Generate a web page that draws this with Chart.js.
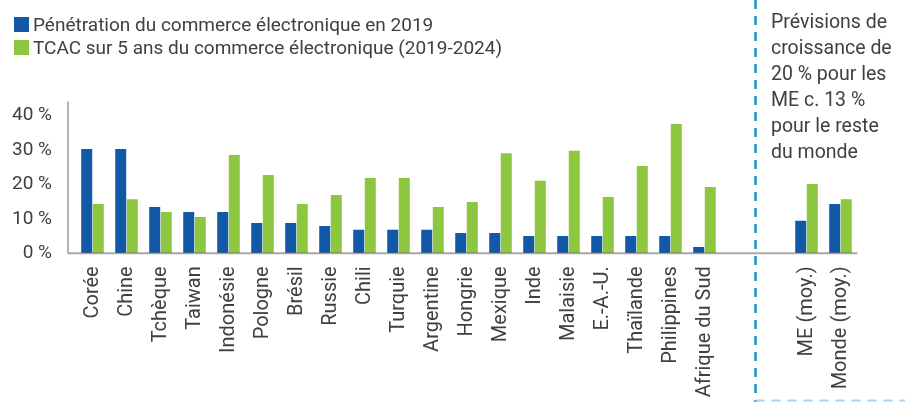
<!DOCTYPE html>
<html lang="fr">
<head>
    <meta charset="UTF-8">
    <title>Commerce électronique</title>
    <script src="https://cdn.jsdelivr.net/npm/chart.js"></script>
    <style>
        body {
            margin: 0;
            background: #ffffff;
            font-family: Roboto, sans-serif;
            color: #404040;
        }
        #wrap {
            position: relative;
            width: 905px;
            height: 402px;
        }
        #legend {
            position: absolute;
            left: 14px;
            top: 13px;
            font-size: 19px;
            line-height: 23px;
        }
        #legend .box {
            display: inline-block;
            width: 15px;
            height: 15px;
            margin-right: 4px;
            vertical-align: -1px;
        }
        #note {
            position: absolute;
            left: 771px;
            top: 9px;
            font-size: 19.5px;
            line-height: 26px;
        }
    </style>
</head>
<body>
    <div id="wrap">
        <canvas id="ecomChart" width="905" height="402"></canvas>
        <div id="legend"></div>
        <div id="note">Prévisions de<br>croissance de<br>20 % pour les<br>ME c. 13 %<br>pour le reste<br>du monde</div>
    </div>

    <script>
        // categories ('' = empty slots before the averages)
        const categories = ['Corée', 'Chine', 'Tchèque', 'Taiwan', 'Indonésie', 'Pologne', 'Brésil', 'Russie',
            'Chili', 'Turquie', 'Argentine', 'Hongrie', 'Mexique', 'Inde', 'Malaisie', 'E.-A.-U.',
            'Thaïlande', 'Philippines', 'Afrique du Sud', '', '', 'ME (moy.)', 'Monde (moy.)'];

        const seriesNames = ['Pénétration du commerce électronique en 2019',
            'TCAC sur 5 ans du commerce électronique (2019-2024)'];

        const penetration2019 = [30.2, 30.2, 13.4, 12.0, 12.0, 8.8, 8.8, 7.9, 6.8, 6.8, 6.8, 5.9, 5.9,
            5.0, 5.0, 5.0, 5.0, 5.0, 1.8, null, null, 9.4, 14.3];
        const tcac5ans = [14.3, 15.7, 12.0, 10.5, 28.5, 22.7, 14.3, 16.9, 21.8, 21.8, 13.4, 14.9, 29.0,
            21.0, 29.7, 16.3, 25.3, 37.5, 19.2, null, null, 20.1, 15.7];

        const yTicks = [0, 10, 20, 30, 40];

        const colors = ['#1158a7', '#8dc63f'];
        const textColor = '#404040';
        const font = { family: 'Roboto, sans-serif', size: 19 };

        // html legend built from the series names
        document.getElementById('legend').innerHTML = seriesNames.map((name, i) =>
            '<div><span class="box" style="background:' + colors[i] + '"></span>' + name + '</div>'
        ).join('');

        // axis lines on top of bars + dashed separator
        const decorations = {
            id: 'decorations',
            afterDatasetsDraw(chart) {
                const { ctx, chartArea } = chart;
                const x0 = chartArea.left - 7.5;
                ctx.save();
                ctx.lineWidth = 2;
                ctx.strokeStyle = 'rgba(110,110,110,0.6)';
                ctx.beginPath();
                ctx.moveTo(x0, chartArea.bottom);
                ctx.lineTo(chartArea.right, chartArea.bottom);
                ctx.stroke();
                ctx.lineWidth = 1.5;
                ctx.strokeStyle = '#9a9a9a';
                ctx.beginPath();
                ctx.moveTo(x0, chartArea.top);
                ctx.lineTo(x0, chartArea.bottom);
                ctx.stroke();
                ctx.restore();
            },
            afterDraw(chart) {
                const { ctx } = chart;
                const xs = chart.scales.x;
                const sep = (xs.getPixelForValue(19) + xs.getPixelForValue(20)) / 2;
                ctx.save();
                ctx.setLineDash([9, 7]);
                ctx.lineWidth = 2.5;
                ctx.strokeStyle = '#1e8fd5';
                ctx.beginPath();
                ctx.moveTo(sep, 0);
                ctx.lineTo(sep, chart.height);
                ctx.stroke();
                ctx.lineWidth = 2;
                ctx.strokeStyle = '#a3d2ef';
                ctx.beginPath();
                ctx.moveTo(sep, chart.height - 1.5);
                ctx.lineTo(chart.width, chart.height - 1.5);
                ctx.stroke();
                ctx.restore();
            }
        };

        function renderChart() {
            const ctx = document.getElementById('ecomChart').getContext('2d');
            new Chart(ctx, {
                type: 'bar',
                data: {
                    labels: categories,
                    datasets: [
                        {
                            label: seriesNames[0],
                            data: penetration2019,
                            backgroundColor: colors[0],
                            categoryPercentage: 0.68,
                            barPercentage: 0.95
                        },
                        {
                            label: seriesNames[1],
                            data: tcac5ans,
                            backgroundColor: colors[1],
                            categoryPercentage: 0.68,
                            barPercentage: 0.95
                        }
                    ]
                },
                options: {
                    responsive: false,
                    animation: false,
                    layout: {
                        padding: { top: 101.5, left: 0, right: 47.5, bottom: 0 }
                    },
                    scales: {
                        x: {
                            grid: { display: false, drawTicks: false },
                            border: { display: false },
                            ticks: {
                                color: textColor,
                                font: { family: font.family, size: 20 },
                                minRotation: 90,
                                maxRotation: 90,
                                autoSkip: false,
                                padding: 13
                            },
                            afterFit(scale) {
                                scale.height = 148.7;
                            }
                        },
                        y: {
                            min: 0,
                            max: 44,
                            grid: { display: false, drawTicks: false },
                            border: { display: false },
                            ticks: {
                                color: textColor,
                                font: font,
                                padding: 23.5,
                                callback: (v) => v + '\u00a0%'
                            },
                            afterBuildTicks(scale) {
                                scale.ticks = yTicks.map(v => ({ value: v }));
                            },
                            afterFit(scale) {
                                scale.width = 75.5;
                            }
                        }
                    },
                    plugins: {
                        legend: { display: false },
                        tooltip: { enabled: false }
                    }
                },
                plugins: [decorations]
            });
        }

        renderChart();
    </script>
</body>
</html>
